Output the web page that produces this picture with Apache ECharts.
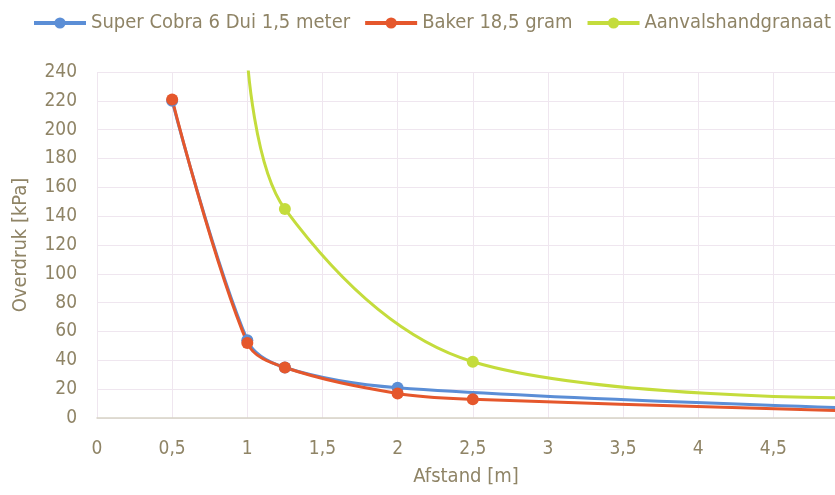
<!DOCTYPE html>
<html>
<head>
<meta charset="utf-8">
<script src="https://cdn.jsdelivr.net/npm/echarts@6/dist/echarts.min.js"></script>
<style>html,body{margin:0;padding:0;background:#fff}#c{width:835px;height:495px}</style>
</head>
<body>
<div id="c"></div>
<script>
var seriesNames = ['Super Cobra 6 Dui 1,5 meter', 'Baker 18,5 gram', 'Aanvalshandgranaat'];
var cobraData = [[0.5, 220], [1, 54], [1.25, 35], [2, 21], [5, 7]];
var bakerData = [[0.5, 221], [1, 52], [1.25, 35], [2, 17], [2.5, 13], [5, 5]];
var granaatData = [[1, 250], [1.25, 145], [2.5, 39], [5, 14]];
var colors = ['#5b8ed6', '#e5572c', '#c4dc3c'];

var FONT = '"DejaVu Sans Condensed", "DejaVu Sans", sans-serif';
var TXT = '#8f8466';
var chart = echarts.init(document.getElementById('c'));
function mk(name, data, color) {
  return {
    name: name, type: 'line', data: data, smooth: 0.35,
    symbol: 'circle', symbolSize: 12, clip: true,
    lineStyle: {width: 3, color: color},
    itemStyle: {color: color}
  };
}
chart.setOption({
  animation: false,
  backgroundColor: '#ffffff',
  color: colors,
  textStyle: {fontFamily: FONT, color: TXT},
  legend: {
    left: 27, top: 8, width: 820, itemWidth: 52, itemHeight: 14, itemGap: 13,
    lineStyle: {width: 4},
    textStyle: {fontFamily: FONT, fontSize: 20, color: TXT},
    data: seriesNames
  },
  grid: {left: 97, right: 0, top: 72, bottom: 77, containLabel: false},
  xAxis: {
    type: 'value', min: 0, max: 4.91, interval: 0.5,
    name: 'Afstand [m]', nameLocation: 'middle', nameGap: 49,
    nameTextStyle: {fontFamily: FONT, fontSize: 20, color: TXT},
    axisLine: {show: true, lineStyle: {color: '#d8d3c6', width: 1.5}},
    axisTick: {show: false},
    axisLabel: {fontFamily: FONT, fontSize: 19, color: TXT, margin: 22,
      showMaxLabel: false,
      formatter: function (v) {
        if (Math.abs(v * 2 - Math.round(v * 2)) > 1e-6) return '';
        return String(v).replace('.', ',');
      }},
    splitLine: {show: true, lineStyle: {color: '#efe6ef', width: 1}}
  },
  yAxis: {
    type: 'value', min: 0, max: 240, interval: 20,
    name: 'Overdruk [kPa]', nameLocation: 'middle', nameGap: 66,
    nameTextStyle: {fontFamily: FONT, fontSize: 20, color: TXT},
    axisLine: {show: false}, axisTick: {show: false},
    axisLabel: {fontFamily: FONT, fontSize: 19, color: TXT, margin: 20},
    splitLine: {show: true, lineStyle: {color: '#efe6ef', width: 1}}
  },
  series: [
    mk(seriesNames[0], cobraData, colors[0]),
    mk(seriesNames[1], bakerData, colors[1]),
    mk(seriesNames[2], granaatData, colors[2])
  ]
});
</script>
</body>
</html>
